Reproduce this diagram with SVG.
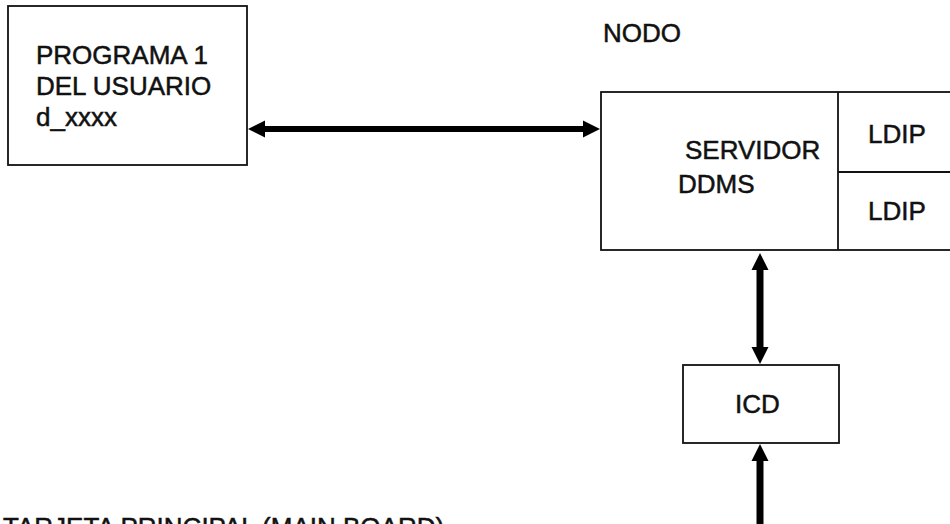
<svg xmlns="http://www.w3.org/2000/svg" width="950" height="524" viewBox="0 0 950 524">
  <style>
    .box { fill: #ffffff; stroke: #111111; stroke-width: 1.8; }
    .sep { stroke: #111111; stroke-width: 1.8; fill: none; }
    .lbl { font-family: "Liberation Sans", Arial, sans-serif; font-size: 26px; fill: #111111; stroke: #111111; stroke-width: 0.5; }
    .link { stroke: #000000; fill: none; }
  </style>
  <defs>
    <marker id="head" viewBox="0 -10 20 20" refX="0" refY="0" markerUnits="userSpaceOnUse" markerWidth="20" markerHeight="20" orient="auto-start-reverse">
      <path d="M0,-8.5 L17,0 L0,8.5 z" fill="#000000"/>
    </marker>
  </defs>

  <rect width="950" height="524" fill="#ffffff"/>

  <!-- user program -->
  <g id="programa">
    <rect class="box" x="8" y="6" width="239" height="159"/>
    <text class="lbl" x="36" y="64">PROGRAMA 1</text>
    <text class="lbl" x="36" y="95">DEL USUARIO</text>
    <text class="lbl" x="36" y="126">d_xxxx</text>
  </g>

  <!-- node title -->
  <g id="nodo">
    <text class="lbl" x="603" y="42">NODO</text>
  </g>

  <!-- DDMS server with its LDIP modules -->
  <g id="servidor">
    <rect class="box" x="601" y="92" width="370" height="158"/>
    <line class="sep" x1="838" y1="92" x2="838" y2="250"/>
    <text class="lbl" x="685" y="159">SERVIDOR</text>
    <text class="lbl" x="678" y="193">DDMS</text>
  </g>
  <g id="ldip1">
    <text class="lbl" x="868" y="143">LDIP</text>
  </g>
  <g id="ldip2">
    <line class="sep" x1="838" y1="172" x2="950" y2="172"/>
    <text class="lbl" x="868" y="220">LDIP</text>
  </g>

  <!-- interface -->
  <g id="icd">
    <rect class="box" x="683" y="365" width="156" height="78"/>
    <text class="lbl" x="735" y="413">ICD</text>
  </g>

  <!-- main board caption, running off the lower edge -->
  <g id="tarjeta">
    <text class="lbl" x="3" y="536">TARJETA PRINCIPAL (MAIN BOARD)</text>
  </g>

  <!-- connectors -->
  <g id="connectors">
    <line class="link" x1="265" y1="129" x2="583" y2="129" stroke-width="6" marker-start="url(#head)" marker-end="url(#head)"/>
    <line class="link" x1="760" y1="270" x2="760" y2="347" stroke-width="7" marker-start="url(#head)" marker-end="url(#head)"/>
    <line class="link" x1="760" y1="530" x2="760" y2="461" stroke-width="7" marker-end="url(#head)"/>
  </g>
</svg>
